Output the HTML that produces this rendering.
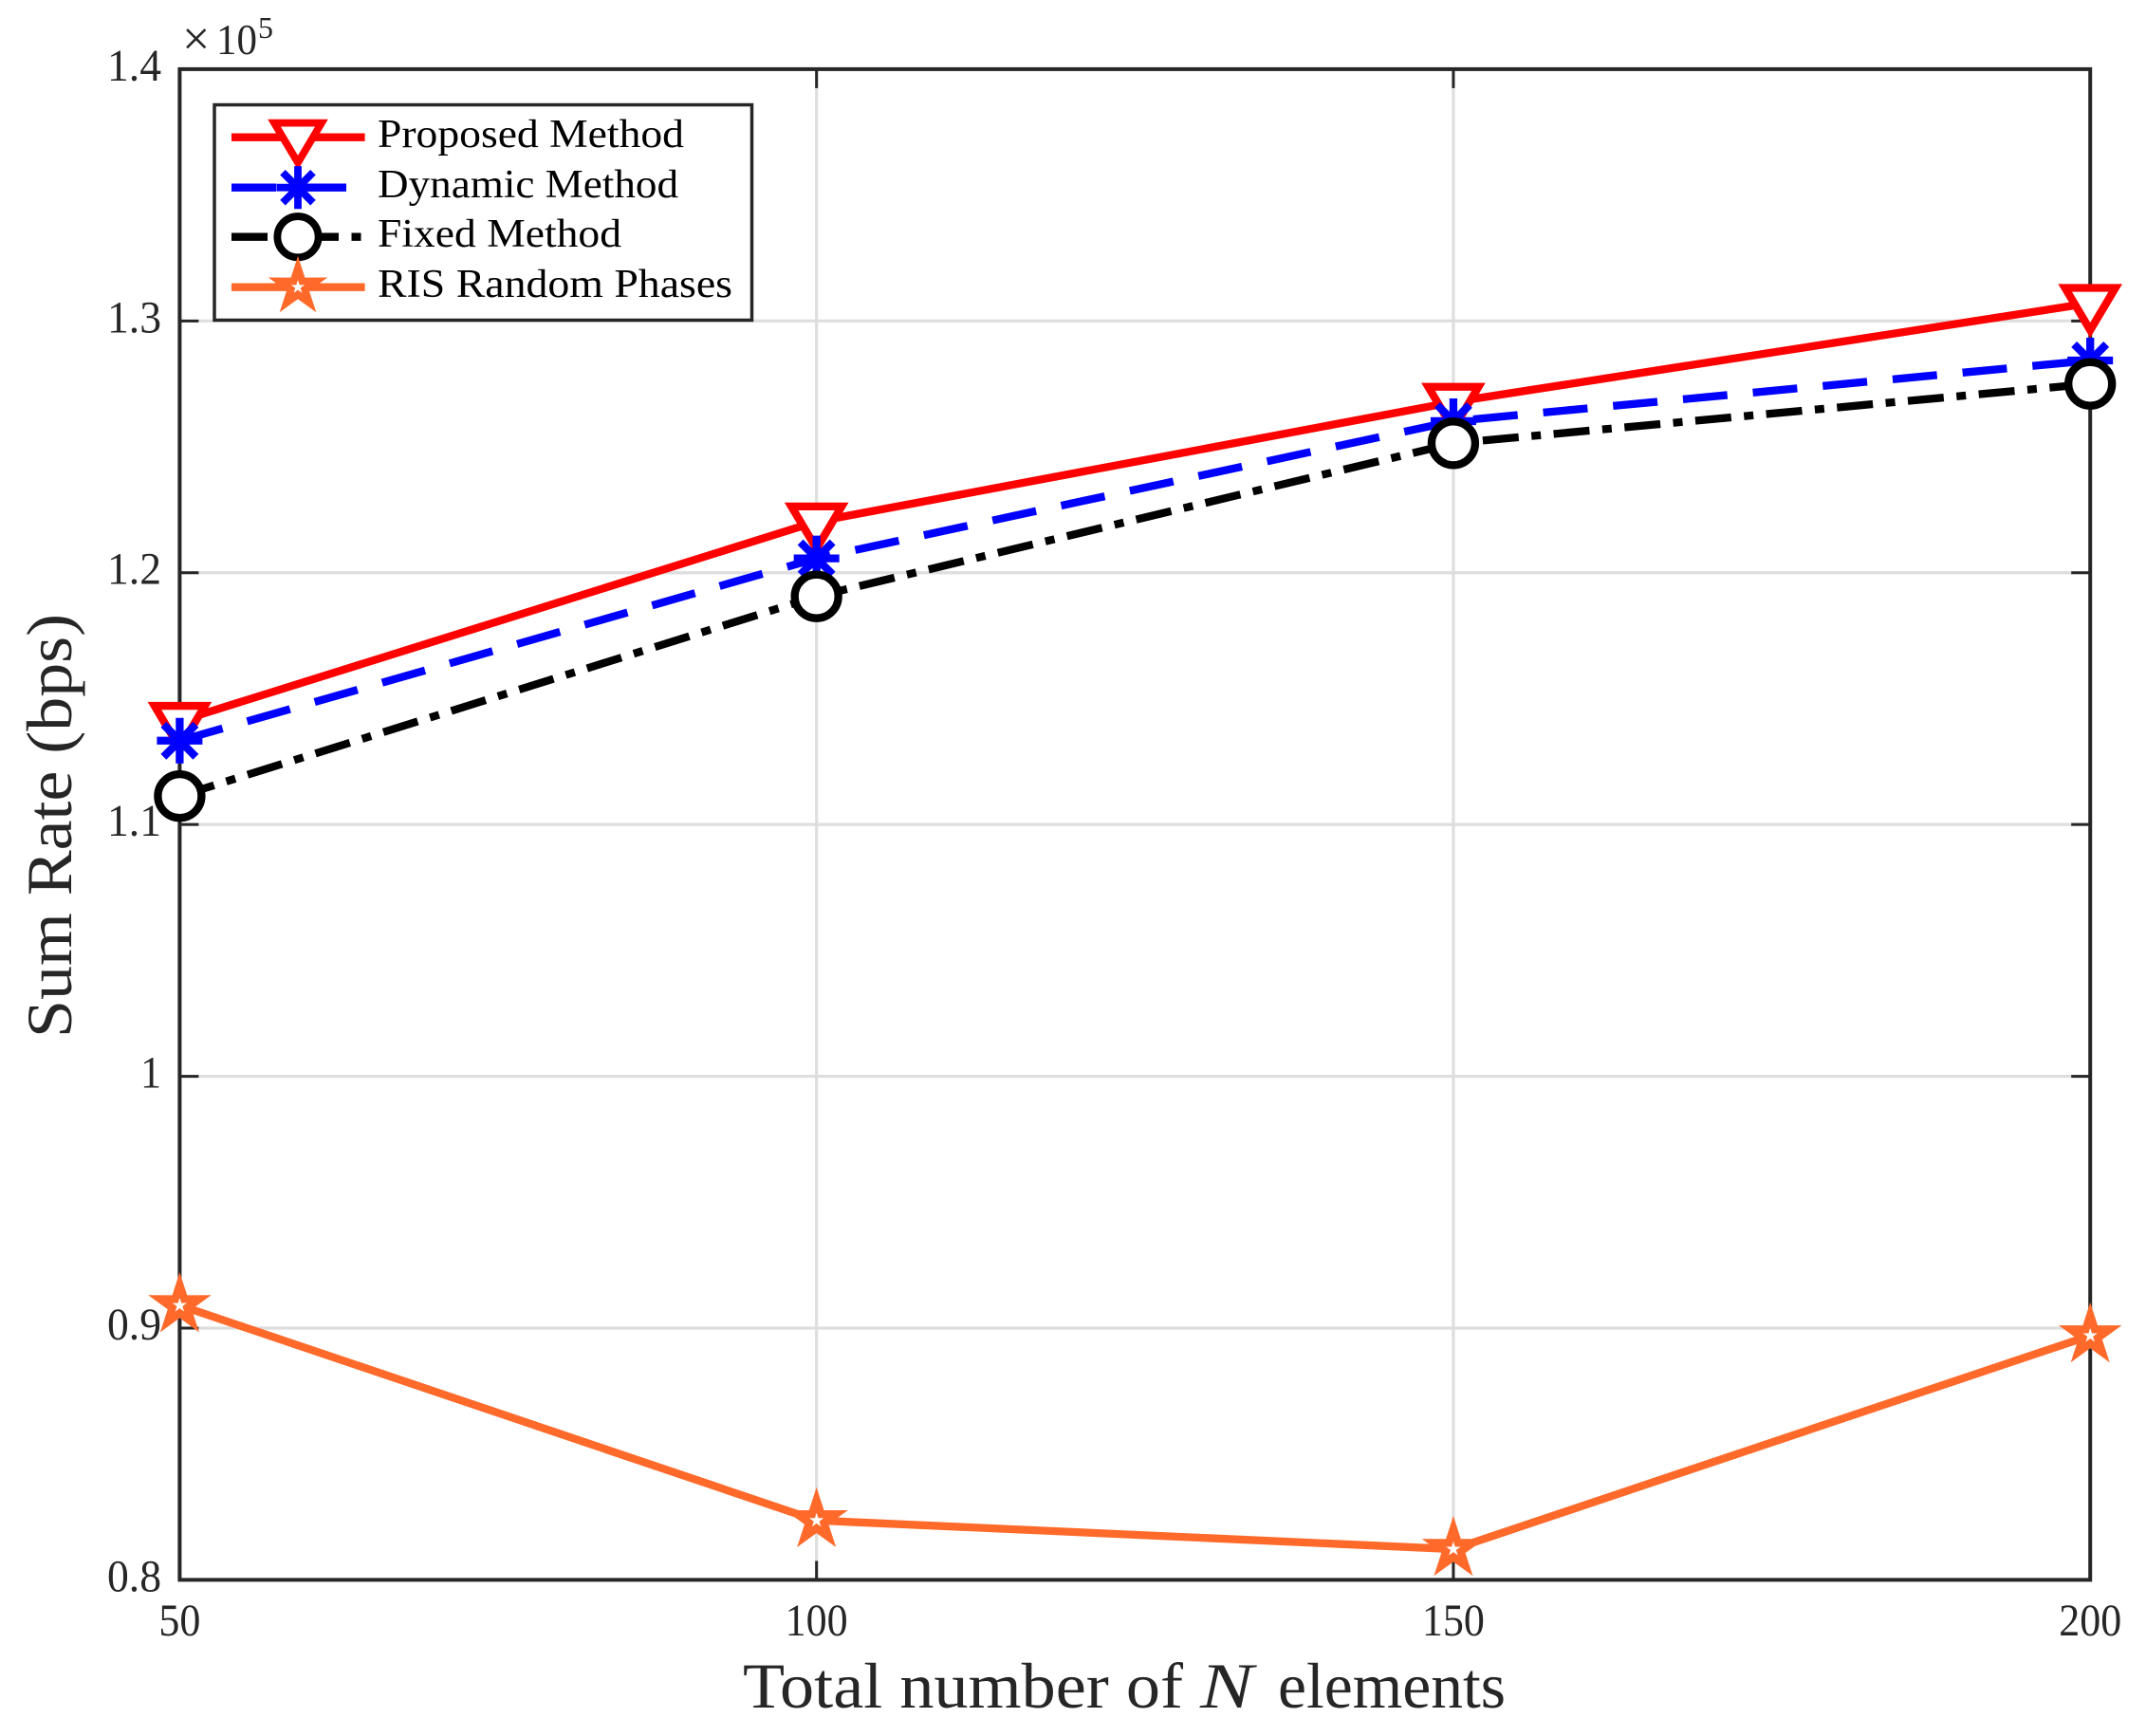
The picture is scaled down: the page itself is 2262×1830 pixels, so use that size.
<!DOCTYPE html>
<html lang="en">
<head>
<meta charset="utf-8">
<title>Sum Rate vs Total Number of N Elements</title>
<style>
html,body{margin:0;padding:0;background:#fff;width:2262px;height:1830px;overflow:hidden}
svg{display:block}
text{font-family:"Liberation Serif",serif;fill:#262626}
.legend-label{fill:#000}
</style>
</head>
<body>
<svg id="chart" xmlns="http://www.w3.org/2000/svg" width="2262" height="1830" viewBox="0 0 2262 1830">
  <rect x="0" y="0" width="2262" height="1830" fill="#fff"/>
  <g id="grid"></g>
  <g id="axes"></g>
  <g id="series"></g>
  <g id="legend"></g>
  <g>
    <text x="192" y="58" font-size="52">×</text>
    <text x="228" y="57" font-size="46" textLength="43" lengthAdjust="spacingAndGlyphs">10</text>
    <text x="272" y="40" font-size="32">5</text>
  </g>
  <g>
    <text x="783" y="1800" font-size="68" textLength="464" lengthAdjust="spacingAndGlyphs">Total number of</text>
    <text x="1265" y="1800" font-size="68" font-style="italic" textLength="56" lengthAdjust="spacingAndGlyphs">N</text>
    <text x="1347" y="1800" font-size="68" textLength="240" lengthAdjust="spacingAndGlyphs">elements</text>
  </g>
  <text transform="translate(75,1094) rotate(-90)" font-size="68" textLength="447" lengthAdjust="spacingAndGlyphs">Sum Rate (bps)</text>
</svg>
<script>
var categories = [50, 100, 150, 200];
var proposedValues = [1.1411, 1.2203, 1.2678, 1.3071];
var dynamicValues = [1.1333, 1.2057, 1.2602, 1.2843];
var fixedValues = [1.1113, 1.1906, 1.2514, 1.2750];
var randomPhaseValues = [0.9090, 0.8236, 0.8122, 0.8970];
var xTickValues = [50, 100, 150, 200];
var xTickLabels = ['50', '100', '150', '200'];
var yTickValues = [0.8, 0.9, 1.0, 1.1, 1.2, 1.3, 1.4];
var yTickLabels = ['0.8', '0.9', '1', '1.1', '1.2', '1.3', '1.4'];
var seriesNames = ['Proposed Method', 'Dynamic Method', 'Fixed Method', 'RIS Random Phases'];

var NS = 'http://www.w3.org/2000/svg';
var plot = {left: 189.4, right: 2203.2, top: 72.9, bottom: 1665.4};
var domainX = [50, 200];
var domainY = [0.8, 1.4];

function xScale(v) {
  return plot.left + (v - domainX[0]) / (domainX[1] - domainX[0]) * (plot.right - plot.left);
}
function yScale(v) {
  return plot.bottom - (v - domainY[0]) / (domainY[1] - domainY[0]) * (plot.bottom - plot.top);
}
function make(tag, attrs, parent) {
  var el = document.createElementNS(NS, tag);
  for (var k in attrs) { el.setAttribute(k, attrs[k]); }
  parent.appendChild(el);
  return el;
}
function line(x1, y1, x2, y2, color, width, parent) {
  return make('line', {x1: x1, y1: y1, x2: x2, y2: y2, stroke: color, 'stroke-width': width}, parent);
}

var gridGroup = document.getElementById('grid');
var axesGroup = document.getElementById('axes');
var seriesGroup = document.getElementById('series');
var legendGroup = document.getElementById('legend');
var GRID = '#dedede', AXIS = '#262626', TICK = 20;

xTickValues.forEach(function (v, i) {
  var x = xScale(v), el;
  if (i > 0 && i < xTickValues.length - 1) {
    el = line(x, plot.top, x, plot.bottom, GRID, 3.2, gridGroup);
    
    
  }
  el = line(x, plot.bottom, x, plot.bottom - TICK, AXIS, 3, axesGroup);
  
  
  el = line(x, plot.top, x, plot.top + TICK, AXIS, 3, axesGroup);
  
  
  el = make('text', {x: x, y: 1724, 'font-size': 48, 'text-anchor': 'middle', textLength: xTickLabels[i].length * 22, lengthAdjust: 'spacingAndGlyphs'}, axesGroup);
  el.textContent = xTickLabels[i];
  
  
});

yTickValues.forEach(function (v, i) {
  var y = yScale(v), el;
  if (i > 0 && i < yTickValues.length - 1) {
    el = line(plot.left, y, plot.right, y, GRID, 3.2, gridGroup);
    
    
  }
  el = line(plot.left, y, plot.left + TICK, y, AXIS, 3, axesGroup);
  
  
  el = line(plot.right, y, plot.right - TICK, y, AXIS, 3, axesGroup);
  
  
  el = make('text', {x: 170, y: y + 12, 'font-size': 48, 'text-anchor': 'end', textLength: yTickLabels[i].length === 1 ? 22 : 57, lengthAdjust: 'spacingAndGlyphs'}, axesGroup);
  el.textContent = yTickLabels[i];
  
  
});

var frame = make('rect', {x: plot.left, y: plot.top, width: plot.right - plot.left, height: plot.bottom - plot.top, fill: 'none', stroke: AXIS, 'stroke-width': 4}, axesGroup);



var SW = 8.3;
function drawMarker(kind, cx, cy, scale, color, parent) {
  var g = make('g', {transform: 'translate(' + cx + ',' + cy + ') scale(' + scale + ')'}, parent);
  if (kind === 'triangle') {
    make('polygon', {points: '-26.5,-16 26.5,-16 0,28.5', fill: '#fff', stroke: color, 'stroke-width': SW, 'stroke-miterlimit': 10}, g);
  } else if (kind === 'asterisk') {
    line(0, -24, 0, 24, color, SW, g);
    line(-24, 0, 24, 0, color, SW, g);
    line(-17, -17, 17, 17, color, SW, g);
    line(-17, 17, 17, -17, color, SW, g);
  } else if (kind === 'circle') {
    make('circle', {cx: 0, cy: 0, r: 23, fill: '#fff', stroke: color, 'stroke-width': SW}, g);
  } else {
    var pts = [];
    for (var i = 0; i < 10; i++) {
      var r = i % 2 === 0 ? 21.5 : 8.2;
      var a = -Math.PI / 2 + i * Math.PI / 5;
      pts.push((r * Math.cos(a)).toFixed(2) + ',' + (r * Math.sin(a)).toFixed(2));
    }
    make('polygon', {points: pts.join(' '), fill: '#fff', stroke: color, 'stroke-width': SW, 'stroke-miterlimit': 10}, g);
  }
  return g;
}

var seriesStyles = [
  {slug: 'proposed-method', values: proposedValues, color: '#ff0000', dash: 'none', marker: 'triangle'},
  {slug: 'dynamic-method', values: dynamicValues, color: '#0000ff', dash: '47 27', marker: 'asterisk'},
  {slug: 'fixed-method', values: fixedValues, color: '#000000', dash: '38 13.5 10 13.5', marker: 'circle'},
  {slug: 'ris-random-phases', values: randomPhaseValues, color: '#ff6a2b', dash: 'none', marker: 'star'}
];

seriesStyles.forEach(function (s) {
  var pts = s.values.map(function (v, i) {
    return xScale(categories[i]).toFixed(2) + ',' + yScale(v).toFixed(2);
  }).join(' ');
  var g = make('g', {}, seriesGroup);
  
  
  var path = make('polyline', {points: pts, fill: 'none', stroke: s.color, 'stroke-width': SW, 'stroke-dasharray': s.dash, 'stroke-linejoin': 'round'}, g);
  
  
  s.values.forEach(function (v, i) {
    var m = drawMarker(s.marker, xScale(categories[i]), yScale(v), 1, s.color, g);
    
    
  });
});

var legendBox = make('rect', {x: 226, y: 110.5, width: 566.5, height: 227, fill: '#fff', stroke: AXIS, 'stroke-width': 3.5}, legendGroup);



var legendLineY = [144.7, 197.7, 249.7, 302.7];
var legendWidths = [323, 317, 257, 374];
seriesStyles.forEach(function (s, i) {
  var g = make('g', {}, legendGroup);
  
  
  var sample = make('line', {x1: 244, y1: legendLineY[i], x2: 384.6, y2: legendLineY[i], stroke: s.color, 'stroke-width': SW, 'stroke-dasharray': s.dash}, g);
  
  
  var mark = drawMarker(s.marker, 314, legendLineY[i], 0.94, s.color, g);
  
  
  var label = make('text', {x: 398, y: legendLineY[i] + 10.5, 'font-size': 42, 'class': 'legend-label', textLength: legendWidths[i], lengthAdjust: 'spacingAndGlyphs'}, g);
  label.textContent = seriesNames[i];
  
  
});
</script>
</body>
</html>
